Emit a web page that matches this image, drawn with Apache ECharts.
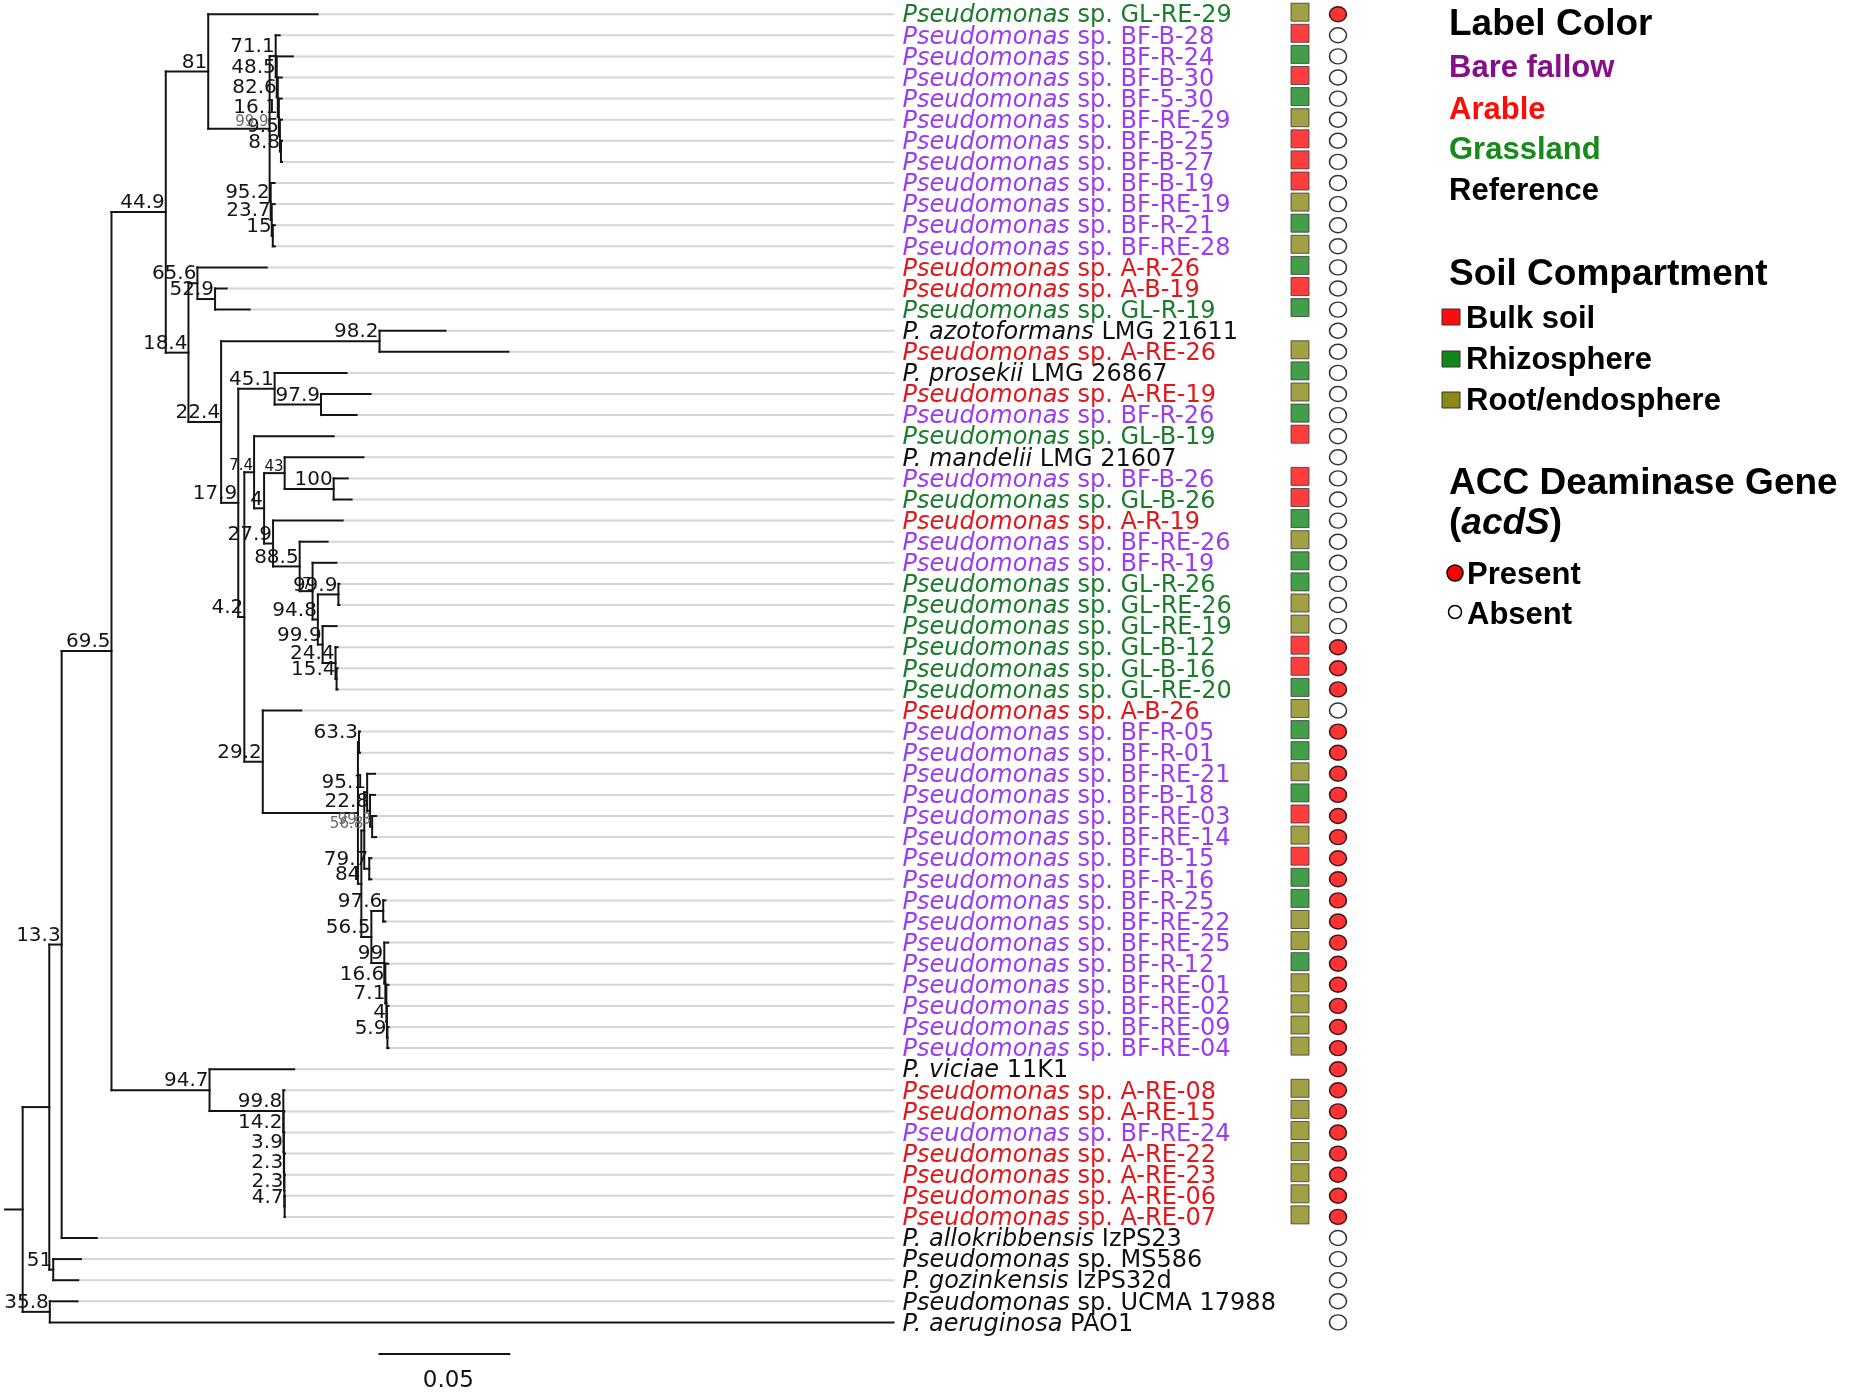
<!DOCTYPE html>
<html>
<head>
<meta charset="utf-8">
<script src="https://cdn.jsdelivr.net/npm/echarts@6/dist/echarts.min.js"></script>
<style>
  html, body { margin: 0; padding: 0; background: #fff; }
  #tree { width: 1850px; height: 1397px; }
</style>
</head>
<body>
<div id="tree"></div>
<script>
// tip order, top to bottom
const leafNames = [
  'Pseudomonas sp. GL-RE-29', 'Pseudomonas sp. BF-B-28', 'Pseudomonas sp. BF-R-24', 'Pseudomonas sp. BF-B-30',
  'Pseudomonas sp. BF-5-30', 'Pseudomonas sp. BF-RE-29', 'Pseudomonas sp. BF-B-25', 'Pseudomonas sp. BF-B-27',
  'Pseudomonas sp. BF-B-19', 'Pseudomonas sp. BF-RE-19', 'Pseudomonas sp. BF-R-21', 'Pseudomonas sp. BF-RE-28',
  'Pseudomonas sp. A-R-26', 'Pseudomonas sp. A-B-19', 'Pseudomonas sp. GL-R-19', 'P. azotoformans LMG 21611',
  'Pseudomonas sp. A-RE-26', 'P. prosekii LMG 26867', 'Pseudomonas sp. A-RE-19', 'Pseudomonas sp. BF-R-26',
  'Pseudomonas sp. GL-B-19', 'P. mandelii LMG 21607', 'Pseudomonas sp. BF-B-26', 'Pseudomonas sp. GL-B-26',
  'Pseudomonas sp. A-R-19', 'Pseudomonas sp. BF-RE-26', 'Pseudomonas sp. BF-R-19', 'Pseudomonas sp. GL-R-26',
  'Pseudomonas sp. GL-RE-26', 'Pseudomonas sp. GL-RE-19', 'Pseudomonas sp. GL-B-12', 'Pseudomonas sp. GL-B-16',
  'Pseudomonas sp. GL-RE-20', 'Pseudomonas sp. A-B-26', 'Pseudomonas sp. BF-R-05', 'Pseudomonas sp. BF-R-01',
  'Pseudomonas sp. BF-RE-21', 'Pseudomonas sp. BF-B-18', 'Pseudomonas sp. BF-RE-03', 'Pseudomonas sp. BF-RE-14',
  'Pseudomonas sp. BF-B-15', 'Pseudomonas sp. BF-R-16', 'Pseudomonas sp. BF-R-25', 'Pseudomonas sp. BF-RE-22',
  'Pseudomonas sp. BF-RE-25', 'Pseudomonas sp. BF-R-12', 'Pseudomonas sp. BF-RE-01', 'Pseudomonas sp. BF-RE-02',
  'Pseudomonas sp. BF-RE-09', 'Pseudomonas sp. BF-RE-04', 'P. viciae 11K1', 'Pseudomonas sp. A-RE-08',
  'Pseudomonas sp. A-RE-15', 'Pseudomonas sp. BF-RE-24', 'Pseudomonas sp. A-RE-22', 'Pseudomonas sp. A-RE-23',
  'Pseudomonas sp. A-RE-06', 'Pseudomonas sp. A-RE-07', 'P. allokribbensis IzPS23', 'Pseudomonas sp. MS586',
  'P. gozinkensis IzPS32d', 'Pseudomonas sp. UCMA 17988', 'P. aeruginosa PAO1'
];

// label colour group: BF bare fallow, A arable, GL grassland, REF reference
const labelGroup = [
  'GL', 'BF', 'BF', 'BF', 'BF', 'BF', 'BF', 'BF', 'BF', 'BF', 'BF', 'BF',
  'A', 'A', 'GL', 'REF', 'A', 'REF', 'A', 'BF', 'GL', 'REF', 'BF', 'GL',
  'A', 'BF', 'BF', 'GL', 'GL', 'GL', 'GL', 'GL', 'GL', 'A', 'BF', 'BF',
  'BF', 'BF', 'BF', 'BF', 'BF', 'BF', 'BF', 'BF', 'BF', 'BF', 'BF', 'BF',
  'BF', 'BF', 'REF', 'A', 'A', 'BF', 'A', 'A', 'A', 'A', 'REF', 'REF',
  'REF', 'REF', 'REF'
];

// soil compartment square: B bulk soil, R rhizosphere, RE root/endosphere, '' none
const compartment = [
  'RE', 'B', 'R', 'B', 'R', 'RE', 'B', 'B', 'B', 'RE', 'R', 'RE',
  'R', 'B', 'R', '', 'RE', 'R', 'RE', 'R', 'B', '', 'B', 'B',
  'R', 'RE', 'R', 'R', 'RE', 'RE', 'B', 'B', 'R', 'RE', 'R', 'R',
  'RE', 'R', 'B', 'RE', 'B', 'R', 'R', 'RE', 'RE', 'R', 'RE', 'RE',
  'RE', 'RE', '', 'RE', 'RE', 'RE', 'RE', 'RE', 'RE', 'RE', '', '',
  '', '', ''
];

// acdS gene: 1 present, 0 absent
const acdS = [
  1, 0, 0, 0, 0, 0, 0, 0, 0, 0, 0, 0,
  0, 0, 0, 0, 0, 0, 0, 0, 0, 0, 0, 0,
  0, 0, 0, 0, 0, 0, 1, 1, 1, 0, 1, 1,
  1, 1, 1, 1, 1, 1, 1, 1, 1, 1, 1, 1,
  1, 1, 1, 1, 1, 1, 1, 1, 1, 1, 0, 0,
  0, 0, 0
];

// tree, tips named by their row index; '#' marks a faint small support value, '~' a small one
const treeNewick = `(
 ((((
     (0:0.0415,
      ((1:0.0015,(2:0.0061,(3:0.0015,(4:0.0011,(5:0.0008,(6:0.0004,7:0.0004)8.8:0.0004)9.5:0.0004)16.1:0.0004)82.6:0.0004)48.5:0.0004)71.1:0.0023,
       (8:0.0015,(9:0.0011,(10:0.0008,11:0.0008)15:0.0004)23.7:0.0004)95.2:0.0004)99.9#:0.0233
     )81:0.0161,
     ((12:0.0263,(13:0.0044,14:0.0131)52.9:0.0067)65.6:0.0034,
      ((15:0.0250,16:0.0489)98.2:0.0601,
       ((17:0.0273,(18:0.0188,19:0.0135)97.9:0.0176)45.1:0.0138,
        ((20:0.0302,
          ((21:0.0299,(22:0.0053,23:0.0068)100:0.0186)43~:0.0078,
           (24:0.0264,(25:0.0106,(26:0.0090,((27:0.0004,28:0.0004)99.9:0.0078,(29:0.0053,(30:0.0008,(31:0.0004,32:0.0004)15.4:0.0004)24.4:0.0049)99.9:0.0018)94.8:0.0020)7~:0.0049)88.5:0.0101)27.9:0.0034
          )4:0.0038
         )7.4~:0.0037,
         (33:0.0146,
          ((34:0.0004,35:0.0004)63.3:0.0004,
           (((36:0.0030,(37:0.0019,(38:0.0015,39:0.0015)99.3#:0.0008)22.8:0.0011)95.1:0.0011,(40:0.0008,41:0.0008)79.7:0.0019)56.8#:0.0011,
            ((42:0.0008,43:0.0008)97.6:0.0045,(44:0.0015,(45:0.0011,(46:0.0008,(47:0.0006,(48:0.0004,49:0.0004)5.9:0.0002)4:0.0002)7.1:0.0004)16.6:0.0004)99:0.0049)56.5:0.0038
           )84:0.0013
          ):0.0361
         )29.2:0.0070
        )4.2:0.0023
       )17.9:0.0065
      )22.4:0.0124
     )18.4:0.0086
    )44.9:0.0206,
    (50:0.0321,(51:0.0004,(52:0.0003,(53:0.0002,(54:0.0003,(55:0.0002,(56:0.0001,57:0.0001)4.7:0.0001)2.3:0.0001)2.3:0.0001)3.9:0.0001)14.2:0.0001)99.8:0.0280)94.7:0.0372
   )69.5:0.0189,
   58:0.0133
  )13.3:0.0047,
  (59:0.0105,60:0.0095)51:0.0015
 ):0.0101,
 (61:0.0105,62:0.3201)35.8:0.0103
):0.0067;`;

const scaleBarLength = 0.05;
const scaleBarStart = 0.1417;

const groupColor = { BF: '#9a3cf2', A: '#e2171b', GL: '#1b7d2c', REF: '#111111' };
const compColor = { B: '#ff0d0d', R: '#13861a', RE: '#8a8816' };

function parseNewick(str) {
  let i = 0;
  function readNode() {
    const node = { children: [] };
    if (str[i] === '(') {
      i++;
      node.children.push(readNode());
      while (str[i] === ',') { i++; node.children.push(readNode()); }
      i++;
    }
    let label = '';
    while (i < str.length && ',):;'.indexOf(str[i]) < 0) label += str[i++];
    let len = 0;
    if (str[i] === ':') {
      i++;
      let s = '';
      while (i < str.length && ',);'.indexOf(str[i]) < 0) s += str[i++];
      len = parseFloat(s);
    }
    node.len = len;
    if (node.children.length) node.label = label;
    else node.leaf = parseInt(label, 10);
    return node;
  }
  return readNode();
}

function layout(node, parentX) {
  node.x = parentX + node.len;
  if (node.children.length) {
    node.children.forEach(c => layout(c, node.x));
    node.y = (node.children[0].y + node.children[node.children.length - 1].y) / 2;
  } else {
    node.y = node.leaf;
  }
}

const root = parseNewick(treeNewick.replace(/\s+/g, ''));
layout(root, 0);

const branches = [];
const tips = [];
const supports = [];
function collect(node, parentX) {
  branches.push([parentX, node.y, node.x, node.y]);
  if (node.children.length) {
    const first = node.children[0], last = node.children[node.children.length - 1];
    branches.push([node.x, first.y, node.x, last.y]);
    node.children.forEach(c => collect(c, node.x));
    if (node.label) supports.push([node.x, node.y, node.label]);
  } else {
    tips.push(node);
  }
}
collect(root, 0);

const maxDepth = Math.max(...tips.map(t => t.x));
const leaders = tips.filter(t => t.x < maxDepth - 1e-6).map(t => [t.x, t.y, maxDepth, t.y]);

function splitName(n) {
  const parts = n.split(' ');
  const k = n.indexOf('P. ') === 0 ? 2 : 1;
  return [parts.slice(0, k).join(' '), ' ' + parts.slice(k).join(' ')];
}

function segmentItem(color, width) {
  return function (params, api) {
    const p1 = api.coord([api.value(0), api.value(1)]);
    const p2 = api.coord([api.value(2), api.value(3)]);
    return {
      type: 'line',
      shape: { x1: p1[0], y1: p1[1], x2: p2[0], y2: p2[1] },
      style: { stroke: color, lineWidth: width, lineCap: 'square' }
    };
  };
}

const chart = echarts.init(document.getElementById('tree'), null, { renderer: 'canvas' });

const titleFont = 'bold 37px "Liberation Sans", Arial, sans-serif';
const entryFont = 'bold 31px "Liberation Sans", Arial, sans-serif';

const legend = [
  { type: 'text', x: 1449, y: 25, style: { text: 'Label Color', font: titleFont, fill: '#000', verticalAlign: 'middle' } },
  { type: 'text', x: 1449, y: 68, style: { text: 'Bare fallow', font: entryFont, fill: '#840f86', verticalAlign: 'middle' } },
  { type: 'text', x: 1449, y: 110, style: { text: 'Arable', font: entryFont, fill: '#ff0a0a', verticalAlign: 'middle' } },
  { type: 'text', x: 1449, y: 150, style: { text: 'Grassland', font: entryFont, fill: '#178a1c', verticalAlign: 'middle' } },
  { type: 'text', x: 1449, y: 191, style: { text: 'Reference', font: entryFont, fill: '#000', verticalAlign: 'middle' } },
  { type: 'text', x: 1449, y: 275, style: { text: 'Soil Compartment', font: titleFont, fill: '#000', verticalAlign: 'middle' } },
  { type: 'rect', shape: { x: 1442, y: 309, width: 18, height: 16 }, style: { fill: compColor.B, stroke: '#333', lineWidth: 1 } },
  { type: 'text', x: 1466, y: 319, style: { text: 'Bulk soil', font: entryFont, fill: '#000', verticalAlign: 'middle' } },
  { type: 'rect', shape: { x: 1442, y: 351, width: 18, height: 16 }, style: { fill: compColor.R, stroke: '#333', lineWidth: 1 } },
  { type: 'text', x: 1466, y: 360, style: { text: 'Rhizosphere', font: entryFont, fill: '#000', verticalAlign: 'middle' } },
  { type: 'rect', shape: { x: 1442, y: 392, width: 18, height: 16 }, style: { fill: compColor.RE, stroke: '#333', lineWidth: 1 } },
  { type: 'text', x: 1466, y: 401, style: { text: 'Root/endosphere', font: entryFont, fill: '#000', verticalAlign: 'middle' } },
  { type: 'text', x: 1449, y: 484, style: { text: 'ACC Deaminase Gene', font: titleFont, fill: '#000', verticalAlign: 'middle' } },
  {
    type: 'text', x: 1449, y: 524,
    style: {
      text: '{b|(}{bi|acdS}{b|)}', verticalAlign: 'middle',
      rich: {
        b: { font: titleFont, fill: '#000' },
        bi: { font: 'italic ' + titleFont, fill: '#000' }
      }
    }
  },
  { type: 'circle', shape: { cx: 1455, cy: 573, r: 8 }, style: { fill: '#ff0000', stroke: '#000', lineWidth: 1.5 } },
  { type: 'text', x: 1467, y: 575, style: { text: 'Present', font: entryFont, fill: '#000', verticalAlign: 'middle' } },
  { type: 'circle', shape: { cx: 1455, cy: 612, r: 6.5 }, style: { fill: '#fff', stroke: '#000', lineWidth: 1.5 } },
  { type: 'text', x: 1467, y: 615, style: { text: 'Absent', font: entryFont, fill: '#000', verticalAlign: 'middle' } }
];

const rowTop = 14.2, rowStep = 21.1, rowSpan = 65;

chart.setOption({
  animation: false,
  backgroundColor: '#fff',
  grid: [
    { left: 5, top: rowTop, width: 1848, height: rowSpan * rowStep },
    { left: 1281, top: rowTop, width: 76, height: rowSpan * rowStep }
  ],
  xAxis: [
    { type: 'value', gridIndex: 0, min: 0, max: 0.7, show: false },
    { type: 'category', gridIndex: 1, data: ['compartment', 'acdS'], show: false }
  ],
  yAxis: [
    { type: 'value', gridIndex: 0, min: 0, max: rowSpan, inverse: true, show: false },
    { type: 'value', gridIndex: 1, min: 0, max: rowSpan, inverse: true, show: false }
  ],
  graphic: legend,
  series: [
    {
      type: 'custom', xAxisIndex: 0, yAxisIndex: 0, silent: true, z: 1,
      data: leaders, encode: { x: [0, 2], y: [1, 3] },
      renderItem: segmentItem('#d6d6d6', 2)
    },
    {
      type: 'custom', xAxisIndex: 0, yAxisIndex: 0, silent: true, z: 3,
      data: branches, encode: { x: [0, 2], y: [1, 3] },
      renderItem: segmentItem('#141414', 2)
    },
    {
      type: 'custom', xAxisIndex: 0, yAxisIndex: 0, silent: true, z: 4,
      data: supports.map(s => [s[0], s[1]]), encode: { x: 0, y: 1 },
      renderItem: function (params, api) {
        const raw = supports[params.dataIndex][2];
        const faint = raw.slice(-1) === '#';
        const small = raw.slice(-1) === '~';
        const text = raw.replace(/[#~]$/, '');
        const p = api.coord([api.value(0), api.value(1)]);
        return {
          type: 'text', x: p[0] - 1, y: p[1] + 1,
          style: {
            text: text, align: 'right', verticalAlign: 'bottom',
            font: (faint || small ? 15 : 20) + 'px "DejaVu Sans", Verdana, sans-serif',
            fill: faint ? '#6a6a6a' : '#151515'
          }
        };
      }
    },
    {
      type: 'custom', xAxisIndex: 0, yAxisIndex: 0, silent: true, z: 4,
      data: leafNames.map((n, i) => [maxDepth, i]), encode: { x: 0, y: 1 },
      renderItem: function (params, api) {
        const i = params.dataIndex;
        const parts = splitName(leafNames[i]);
        const col = groupColor[labelGroup[i]];
        const p = api.coord([api.value(0), api.value(1)]);
        const base = '24px "DejaVu Sans", Verdana, sans-serif';
        return {
          type: 'text', x: p[0] + 9, y: p[1] + 2,
          style: {
            text: '{i|' + parts[0] + '}{n|' + parts[1] + '}',
            align: 'left', verticalAlign: 'middle',
            rich: {
              i: { font: 'italic ' + base, fill: col },
              n: { font: base, fill: col }
            }
          }
        };
      }
    },
    {
      type: 'custom', xAxisIndex: 0, yAxisIndex: 0, silent: true, z: 4,
      data: [[scaleBarStart, 63.5, scaleBarLength]], encode: { x: 0, y: 1 },
      renderItem: function (params, api) {
        const a = api.coord([api.value(0), api.value(1)]);
        const b = api.coord([api.value(0) + api.value(2), api.value(1)]);
        return {
          type: 'group',
          children: [
            { type: 'line', shape: { x1: a[0], y1: a[1], x2: b[0], y2: b[1] }, style: { stroke: '#141414', lineWidth: 2 } },
            {
              type: 'text', x: (a[0] + b[0]) / 2 + 4, y: a[1] + 27,
              style: { text: String(api.value(2)), align: 'center', verticalAlign: 'middle', font: '23px "DejaVu Sans", Verdana, sans-serif', fill: '#111' }
            }
          ]
        };
      }
    },
    {
      type: 'scatter', xAxisIndex: 1, yAxisIndex: 1, silent: true, z: 4,
      symbol: 'rect', symbolSize: [18, 18], symbolOffset: [0, -2],
      data: compartment.map((c, i) => c ? { value: [0, i], itemStyle: { color: compColor[c] } } : null).filter(Boolean),
      itemStyle: { borderColor: '#3a3a3a', borderWidth: 1 }
    },
    {
      type: 'scatter', xAxisIndex: 1, yAxisIndex: 1, silent: true, z: 4,
      symbol: 'circle', symbolSize: [17, 15], symbolOffset: [0, 0],
      data: acdS.map((v, i) => ({ value: [1, i], itemStyle: { color: v ? '#ff0000' : '#ffffff' } })),
      itemStyle: { borderColor: '#000', borderWidth: 1.5 }
    }
  ]
});
</script>
</body>
</html>
